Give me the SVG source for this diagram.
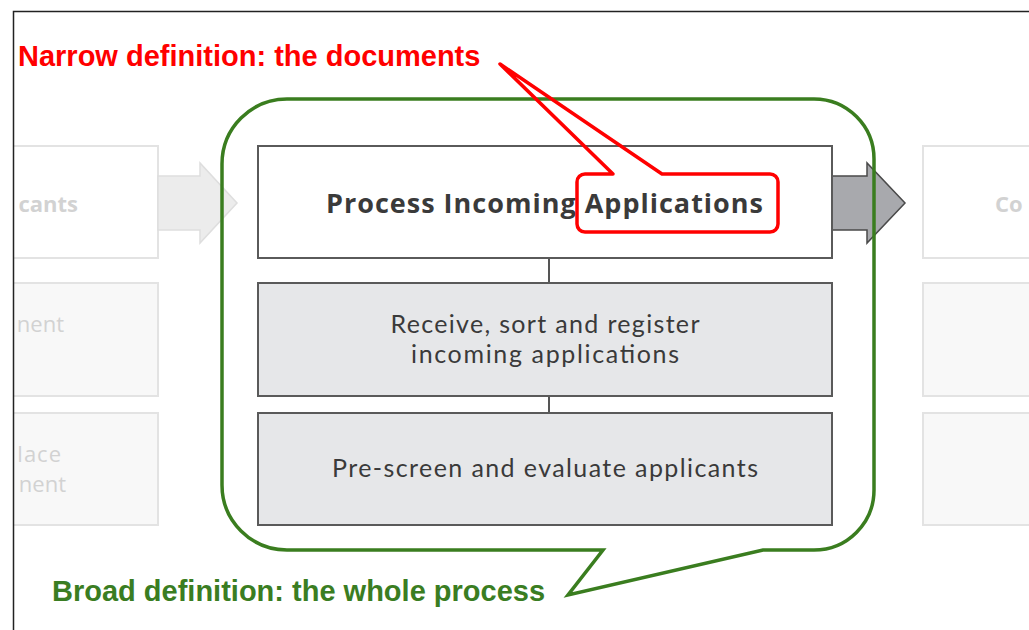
<svg xmlns="http://www.w3.org/2000/svg" width="1029" height="630" viewBox="0 0 1029 630">
<style>
.fade{fill:#ffffff;stroke:#e3e3e3;stroke-width:2}
.fade2{fill:#f8f8f8;stroke:#e3e3e3;stroke-width:2}
.ftxt{font-family:"Open Sans",sans-serif;fill:#d2d2d2;font-size:22px}
.box{stroke:#5a5a5a;stroke-width:2}
.btxt{font-family:"Open Sans",sans-serif;fill:#3a3a3a;text-anchor:middle}
.ltxt{font-family:Lato,"Open Sans",sans-serif;fill:#3a3a3a;text-anchor:middle;font-size:25px}
.conn{stroke:#555;stroke-width:2;fill:none}
</style>
<defs>
<clipPath id="frameclip"><rect x="14" y="12" width="1015" height="618"/></clipPath>
</defs>
<rect width="1029" height="630" fill="#ffffff"/>
<g clip-path="url(#frameclip)">
<g id="left-faded">
<rect class="fade" x="-20" y="146" width="178" height="112"/>
<text class="ftxt" x="78" y="212" text-anchor="end" font-weight="bold" font-size="23">cants</text>
<rect class="fade2" x="-20" y="283" width="178" height="113"/>
<text class="ftxt" x="64" y="332" text-anchor="end">nent</text>
<rect class="fade2" x="-20" y="413" width="178" height="112"/>
<text class="ftxt" x="62" y="462" text-anchor="end" letter-spacing="1">lace</text>
<text class="ftxt" x="66" y="492" text-anchor="end">nent</text>
<path d="M158,176 H200 V163 L237,203 L200,243 V230 H158 Z" fill="#ececec" stroke="#dedede" stroke-width="1.5"/>
</g>
<g id="right-faded">
<rect class="fade" x="923" y="146" width="130" height="112"/>
<text class="ftxt" x="995" y="212" font-weight="bold" font-size="23">Co</text>
<rect class="fade2" x="923" y="283" width="130" height="113"/>
<rect class="fade2" x="923" y="413" width="130" height="112"/>
</g>
</g>
<g id="frame" stroke="#222" stroke-width="1.5" fill="none">
<path d="M13.5,630 V11.5 H1029"/>
</g>
<g id="connectors">
<line class="conn" x1="549" y1="258" x2="549" y2="283"/>
<line class="conn" x1="549" y1="396" x2="549" y2="413"/>
<path d="M832,176 H867 V163 L905,203 L867,243 V230 H832 Z" fill="#a8a9ad" stroke="#4a4a4a" stroke-width="1.5"/>
</g>
<g id="node-process">
<rect class="box" x="258" y="146" width="574" height="112" fill="#ffffff"/>
<text class="btxt" x="545" y="213" font-size="27" font-weight="bold" letter-spacing="1" fill="#2e2e2e">Process Incoming Applications</text>
</g>
<g id="node-receive">
<rect class="box" x="258" y="283" width="574" height="113" fill="#e6e7e9"/>
<text class="ltxt" x="545" y="333" textLength="309" lengthAdjust="spacing">Receive, sort and register</text>
<text class="ltxt" x="545" y="363" textLength="268" lengthAdjust="spacing">incoming applications</text>
</g>
<g id="node-prescreen">
<rect class="box" x="258" y="413" width="574" height="112" fill="#e6e7e9"/>
<text class="ltxt" x="545" y="477" textLength="426" lengthAdjust="spacing">Pre-screen and evaluate applicants</text>
</g>
<g id="broad-callout">
<path d="M287,99 H814 A60,60 0 0 1 874,159 V490 A60,60 0 0 1 814,550 H763 L568,595 L603,550 H287 A65,65 0 0 1 222,485 V164 A65,65 0 0 1 287,99 Z" fill="none" stroke="#3a7d1f" stroke-width="3.5" stroke-linejoin="miter"/>
<text x="52" y="601" font-family="Liberation Sans, Arial, sans-serif" font-weight="bold" font-size="29" fill="#3a7d22">Broad definition: the whole process</text>
</g>
<g id="narrow-callout">
<path d="M613,174 L500,64 L662,174 H770 A8,8 0 0 1 778,182 V224 A8,8 0 0 1 770,232 H585 A8,8 0 0 1 577,224 V182 A8,8 0 0 1 585,174 Z" fill="none" stroke="#ff0000" stroke-width="3.5" stroke-linejoin="round"/>
<text x="18" y="66" font-family="Liberation Sans, Arial, sans-serif" font-weight="bold" font-size="29" fill="#ff0000">Narrow definition: the documents</text>
</g>
</svg>
